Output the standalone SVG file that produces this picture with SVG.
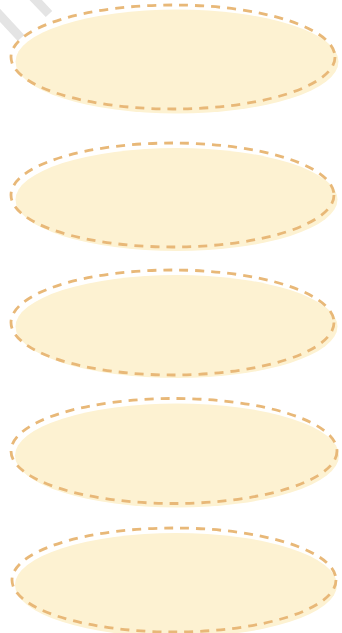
<svg xmlns="http://www.w3.org/2000/svg" width="342" height="633" viewBox="0 0 342 633">
<style>
.fill{fill:#fdf2d2;stroke:none}
.outline{fill:none;stroke:#e8b878;stroke-width:2.8;stroke-dasharray:9 7;stroke-linecap:butt}
.hatch{stroke:#e4e4e4;stroke-width:9;fill:none}
</style>
<rect width="342" height="633" fill="#ffffff"/>
<g id="hatch">
<line class="hatch" x1="-5" y1="10" x2="21" y2="38"/>
<line class="hatch" x1="30" y1="-6" x2="49" y2="14"/>
</g>
<g id="node1">
<ellipse class="fill" cx="177" cy="61.5" rx="161.5" ry="52"/>
<ellipse class="outline" cx="173" cy="57" rx="162" ry="52"/>
</g>
<g id="node2">
<ellipse class="fill" cx="176.5" cy="199.5" rx="161" ry="51.5"/>
<ellipse class="outline" cx="172.5" cy="195" rx="161.5" ry="52"/>
</g>
<g id="node3">
<ellipse class="fill" cx="176.5" cy="326.5" rx="161" ry="51.5"/>
<ellipse class="outline" cx="172.5" cy="322.5" rx="161.5" ry="52.5"/>
</g>
<g id="node4">
<ellipse class="fill" cx="177" cy="455.5" rx="162" ry="52"/>
<ellipse class="outline" cx="174" cy="451" rx="163" ry="52.5"/>
</g>
<g id="node5">
<ellipse class="fill" cx="176" cy="585" rx="161" ry="52"/>
<ellipse class="outline" cx="174" cy="580" rx="162" ry="52"/>
</g>
<g id="connectors"></g>
</svg>
